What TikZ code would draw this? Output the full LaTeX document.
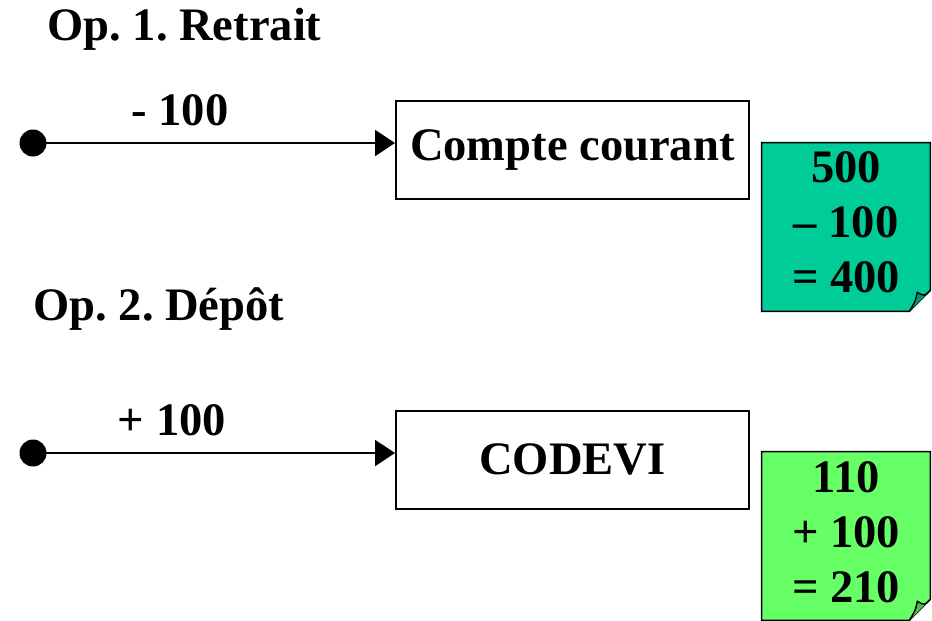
\documentclass[tikz,border=0pt]{standalone}
\usepackage{fontspec}
\setmainfont{Liberation Serif}
\usetikzlibrary{arrows.meta,positioning}
\definecolor{cRetrait}{RGB}{0,204,153}
\definecolor{cDepot}   {RGB}{102,255,102}
\frenchspacing

\begin{document}
\begin{tikzpicture}[
  x=0.02cm,y=-0.02cm,
  big/.style={font=\fontsize{26.5}{31.3}\selectfont\bfseries},
  title/.style={big,inner sep=0pt,anchor=base west},
  amount/.style={big,inner sep=0pt,anchor=base},
  acct/.style={draw,line width=1pt,minimum width=7.06cm,minimum height=1.96cm,
               big,inner sep=0pt},
  note/.style={minimum width=3.36cm,minimum height=3.36cm,inner sep=0pt,
               align=center,big},
  src/.style={circle,fill=black,inner sep=0pt,minimum size=0.54cm},
  flow/.style={-{Triangle[length=4mm,width=5.2mm]},line width=1.1pt},
]
\useasboundingbox (0,0) rectangle (932,620);
% operation 1
\node[title] (op1) at (47,40) {Op. 1. Retrait};
\node[src] (s1) at (33,143) {};
\node[acct,anchor=north west] (cc) at (395,100) {Compte courant};
\draw[flow] (s1.center) -- (cc.west |- s1);
\node[amount] (m1) at (180,125) {- 100};
% operation 2
\node[title] (op2) at (33,320) {Op. 2. Dépôt};
\node[src] (s2) at (33,453) {};
\node[acct,anchor=north west] (cv) at (395,410) {CODEVI};
\draw[flow] (s2.center) -- (cv.west |- s2);
\node[amount] (m2) at (172,435) {+ 100};
% balance notes with folded corner
\node[note] (n1) at (846,227) {};
\node[note] (n2) at (846,536) {};
\foreach \n/\c in {n1/cRetrait,n2/cDepot} {
  \draw[fill=\c,line width=0.8pt] (\n.north west) -- (\n.north east)
    -- ([yshift=0.42cm]\n.south east) -- ([xshift=-0.42cm]\n.south east)
    -- (\n.south west) -- cycle;
  \draw[fill=\c!75!black,line width=0.8pt] ([xshift=-0.42cm]\n.south east)
    .. controls ([xshift=-0.3cm,yshift=0.2cm]\n.south east) .. ([xshift=-0.26cm,yshift=0.38cm]\n.south east)
    .. controls ([xshift=-0.12cm,yshift=0.3cm]\n.south east) .. ([yshift=0.42cm]\n.south east);
}
\node[big,align=center,inner sep=0pt] (t1) at (846,222) {500\\– 100\\= 400};
\node[big,align=center,inner sep=0pt] (t2) at (846,532) {110\\+ 100\\= 210};
\end{tikzpicture}
\end{document}
